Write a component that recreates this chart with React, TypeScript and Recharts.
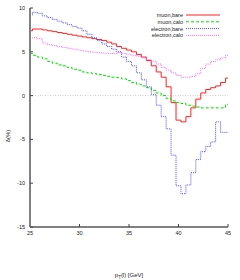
import { LineChart, Line, XAxis, YAxis, ReferenceLine, Legend } from 'recharts';

// bin centres in GeV (0.5 GeV bins)
const ptBins = [
  25, 25.5, 26, 26.5, 27, 27.5, 28, 28.5, 29, 29.5, 30, 30.5, 31, 31.5, 32, 32.5, 33, 33.5, 34, 34.5,
  35, 35.5, 36, 36.5, 37, 37.5, 38, 38.5, 39, 39.5, 40, 40.5, 41, 41.5, 42, 42.5, 43, 43.5, 44, 44.5, 45,
];

const muonBare = [
  7.4, 7.6, 7.6, 7.5, 7.4, 7.3, 7.2, 7.1, 7.0, 6.9, 6.8, 6.7, 6.6, 6.5, 6.4, 6.3, 6.1, 5.9, 5.6, 5.4,
  5.2, 5.0, 4.7, 4.4, 4.0, 3.4, 2.7, 2.1, 1.0, -0.8, -2.8, -3.0, -2.4, -1.4, -0.4, 0.3, 0.7, 0.9, 1.1, 1.5, 2.0,
];

const muonCalo = [
  4.8, 4.6, 4.4, 4.2, 3.9, 3.7, 3.5, 3.4, 3.2, 3.0, 2.9, 2.7, 2.6, 2.5, 2.4, 2.3, 2.2, 2.1, 2.05, 1.9,
  1.7, 1.5, 1.3, 1.1, 0.9, 0.6, 0.3, 0.0, -0.3, -0.6, -0.8, -0.9, -1.1, -1.2, -1.3, -1.4, -1.4, -1.4, -1.4, -1.4, -1.0,
];

const electronBare = [
  9.2, 9.5, 9.4, 9.1, 8.9, 8.7, 8.5, 8.3, 8.1, 7.9, 7.7, 7.4, 7.0, 6.6, 6.3, 5.9, 5.6, 5.3, 5.0, 4.4,
  3.9, 3.4, 2.6, 1.8, 1.0, 0.1, -1.1, -2.4, -3.8, -6.8, -10.3, -11.2, -10.2, -8.8, -7.3, -6.4, -5.8, -5.3, -3.0, -4.2, -4.2,
];

const electronCalo = [
  6.6, 6.6, 6.5, 6.0, 5.8, 5.7, 5.6, 5.5, 5.4, 5.3, 5.2, 5.1, 5.0, 4.95, 4.9, 4.85, 4.8, 4.8, 4.9, 4.8,
  4.7, 4.6, 4.5, 4.3, 4.1, 3.9, 3.6, 3.2, 2.9, 2.6, 2.3, 2.1, 2.1, 2.2, 2.5, 3.1, 3.6, 3.9, 4.1, 4.3, 4.6,
];

const xTicks = [25, 30, 35, 40, 45];
const yTicks = [-15, -10, -5, 0, 5, 10];

const series = [
  { key: 'muonBare', name: 'muon,bare', color: '#ff2020', dash: undefined },
  { key: 'muonCalo', name: 'muon,calo', color: '#00dd00', dash: '3 2' },
  { key: 'electronBare', name: 'electron,bare', color: '#4a4aff', dash: '1 1' },
  { key: 'electronCalo', name: 'electron,calo', color: '#ff66ff', dash: '1 1' },
];

const data = ptBins.map((x, i) => ({
  x,
  muonBare: muonBare[i],
  muonCalo: muonCalo[i],
  electronBare: electronBare[i],
  electronCalo: electronCalo[i],
}));

const font = 'Liberation Sans, Arial, sans-serif';
const frame = '#808080';

function LegendBox() {
  return (
    <svg width={82} height={32}>
      {series.map((s, i) => (
        <g key={s.key}>
          <text
            x={44}
            y={5 + i * 6.8}
            dy="0.35em"
            textAnchor="end"
            fontSize={5.5}
            fontFamily={font}
            fill="#222"
          >
            {s.name}
          </text>
          <line
            x1={47}
            x2={81}
            y1={5 + i * 6.8}
            y2={5 + i * 6.8}
            stroke={s.color}
            strokeWidth={1}
            strokeDasharray={s.dash}
          />
        </g>
      ))}
    </svg>
  );
}

export default function App() {
  const tickStyle = { fontSize: 5.5, fontFamily: font, fill: '#222' };
  return (
    <div style={{ width: 240, height: 280 }}>
      <style>{`body{margin:0}`}</style>
      <LineChart width={240} height={280} data={data} margin={{ top: 8, right: 12, left: 0, bottom: 0 }}>
        <XAxis
          dataKey="x"
          type="number"
          domain={[25, 45]}
          ticks={xTicks}
          allowDataOverflow
          height={21}
          tick={tickStyle}
          tickSize={-3}
          tickMargin={7}
          axisLine={{ stroke: frame, strokeWidth: 2 }}
          tickLine={{ stroke: '#444' }}
          label={{
            content: () => (
              <text x={129} y={275} textAnchor="middle" dy="0.35em" fontSize={6} fontFamily={font} fill="#222">
                p<tspan fontSize={4.5} dy={1.5}>T</tspan>
                <tspan dy={-1.5}>(l) [GeV]</tspan>
              </text>
            ),
          }}
        />
        <XAxis
          xAxisId="top"
          dataKey="x"
          type="number"
          orientation="top"
          domain={[25, 45]}
          ticks={xTicks}
          height={0}
          tick={false}
          tickSize={-3}
          axisLine={{ stroke: frame, strokeWidth: 2 }}
          tickLine={{ stroke: '#444' }}
        />
        <YAxis
          type="number"
          domain={[-15, 10]}
          ticks={yTicks}
          allowDataOverflow
          width={30}
          tick={tickStyle}
          tickSize={-3}
          tickMargin={8}
          axisLine={{ stroke: frame, strokeWidth: 2 }}
          tickLine={{ stroke: '#444' }}
          label={{
            content: () => (
              <text
                x={8}
                y={136}
                textAnchor="middle"
                dy="0.35em"
                transform="rotate(-90 8 136)"
                fontSize={6}
                fontFamily={font}
                fill="#222"
              >
                δ(%)
              </text>
            ),
          }}
        />
        <YAxis
          yAxisId="right"
          orientation="right"
          type="number"
          domain={[-15, 10]}
          ticks={yTicks}
          width={0}
          tick={false}
          tickSize={-3}
          axisLine={{ stroke: frame, strokeWidth: 2 }}
          tickLine={{ stroke: '#444' }}
        />
        <ReferenceLine y={0} stroke="#aaaaaa" strokeWidth={0.6} strokeDasharray="1 1.5" />
        {series.map((s) => (
          <Line
            key={s.key}
            type="step"
            dataKey={s.key}
            name={s.name}
            stroke={s.color}
            strokeWidth={1}
            strokeDasharray={s.dash}
            dot={false}
            isAnimationActive={false}
          />
        ))}
        <Legend
          content={() => <LegendBox />}
          wrapperStyle={{ position: 'absolute', left: 139, top: 10, width: 82, height: 32 }}
        />
      </LineChart>
    </div>
  );
}
